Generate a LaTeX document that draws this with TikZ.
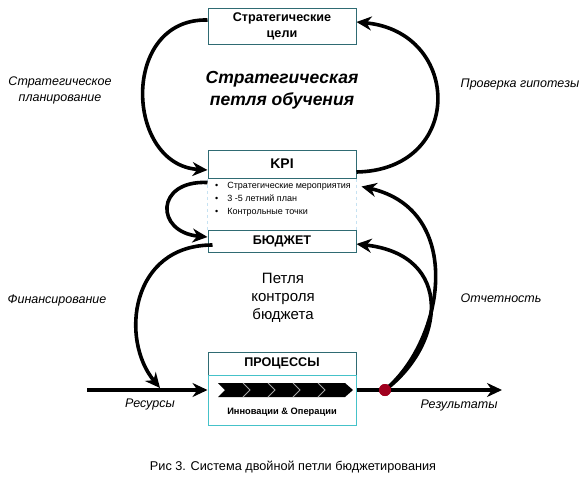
\documentclass[tikz,border=0pt]{standalone}
\usepackage{fontspec}
\setmainfont{Liberation Sans}
\usepackage{xcolor}
\usetikzlibrary{arrows.meta, positioning}

\definecolor{boxteal}{HTML}{2F6B73}
\definecolor{boxcyan}{HTML}{45C2C9}
\definecolor{sideblue}{HTML}{C6E2F2}
\definecolor{dotred}{HTML}{A0001E}

\begin{document}
\begin{tikzpicture}[x=1pt, y=-1pt,
  box/.style={draw=boxteal, line width=1pt, minimum width=148pt, inner sep=0pt, align=center,
    font=\fontsize{12.6}{16}\selectfont\bfseries},
  arr/.style={-{Stealth[length=15pt,width=14pt]}, line width=3.6pt},
  lbl/.style={font=\fontsize{12.5}{16}\selectfont\itshape, align=center},
  sidedash/.style={draw=sideblue, dashed, line width=0.8pt}
]
\useasboundingbox (0,0) rectangle (587,479);

% boxes
\node[box, minimum height=36pt] (goals) at (282,26) {Стратегические\\цели};
\node[box, minimum height=28pt, font=\fontsize{14}{16}\selectfont\bfseries] (kpi) at (282,164) {KPI};
\node[box, minimum height=22pt] (budget) at (282,241) {БЮДЖЕТ};
\node[box, minimum height=23pt] (proc) at (282,363.5) {ПРОЦЕССЫ};
\node[draw=boxcyan, line width=1pt, minimum width=148pt, minimum height=50pt, inner sep=0pt] (ops) at (282,400) {};
\node[font=\fontsize{9.3}{11}\selectfont\bfseries] (opstxt) at (282,412) {Инновации \& Операции};

% bullet area between KPI and budget
\draw[sidedash] (kpi.south west) -- (budget.north west);
\draw[sidedash] (kpi.south east) -- (budget.north east);
\node[anchor=north west, align=left, inner sep=0pt, font=\fontsize{9}{12.8}\selectfont] (acts) at (215,182.5)
  {\textbullet\hspace{9pt}Стратегические мероприятия\\
   \textbullet\hspace{9pt}3 -5 летний план\\
   \textbullet\hspace{9pt}Контрольные точки};

% chevron band
\fill (218,383) -- (345,383) -- (353,390) -- (345,397) -- (218,397) -- (225,390) -- cycle;
\foreach \cx in {243,268,293,318}
  \draw[gray!70, line width=0.8pt] (\cx,383) -- (\cx+7,390) -- (\cx,397);

% texts
\node[font=\fontsize{17.5}{22}\selectfont\bfseries\itshape, align=center] (sloop) at (282,90) {Стратегическая\\петля обучения};
\node[font=\fontsize{15}{18}\selectfont, align=center] (bloop) at (283,298) {Петля\\контроля\\бюджета};
\node[lbl] (plan) at (60,90) {Стратегическое\\планирование};
\node[lbl] (check) at (520,84) {Проверка гипотезы};
\node[lbl] (fin) at (57,300) {Финансирование};
\node[lbl] (rep) at (501,298) {Отчетность};
\node[lbl] (res) at (150,404) {Ресурсы};
\node[lbl] (out) at (459,405) {Результаты};
\node[font=\fontsize{12.7}{14}\selectfont] (cap) at (293,467) {Рис 3. Система двойной петли бюджетирования};

% main flow
\coordinate (src) at (87,390);
\coordinate (sink) at (502,390);
\coordinate (fund) at (160,388);
\draw[arr] (src) -- (src -| ops.west);
\draw[arr] (src -| ops.east) -- (sink);

% loops
\draw[arr] ([yshift=6pt]goals.west) .. controls (120,18) and (125,165) .. ([yshift=-6pt]kpi.west);
\draw[arr] ([yshift=-8pt]kpi.east) .. controls (465,170) and (462,32) .. ([yshift=4pt]goals.east);
\draw[arr] ([yshift=-4pt]kpi.south west) .. controls (155,180) and (155,232) .. ([yshift=4pt]budget.west);
\draw[arr] ([xshift=5pt,yshift=-4pt]budget.west) .. controls (130,245) and (120,340) .. (fund);
\node[circle, fill=dotred, inner sep=0pt, minimum size=12pt] (tap) at (385,390) {};
\draw[arr] (tap.center) .. controls (445,340) and (465,210) .. ([xshift=5pt,yshift=-8pt]kpi.south east);
\draw[arr] (tap.center) .. controls (445,345) and (455,255) .. ([yshift=-3pt]budget.east);
\node[circle, fill=dotred, inner sep=0pt, minimum size=12pt] at (tap) {};
\end{tikzpicture}
\end{document}
